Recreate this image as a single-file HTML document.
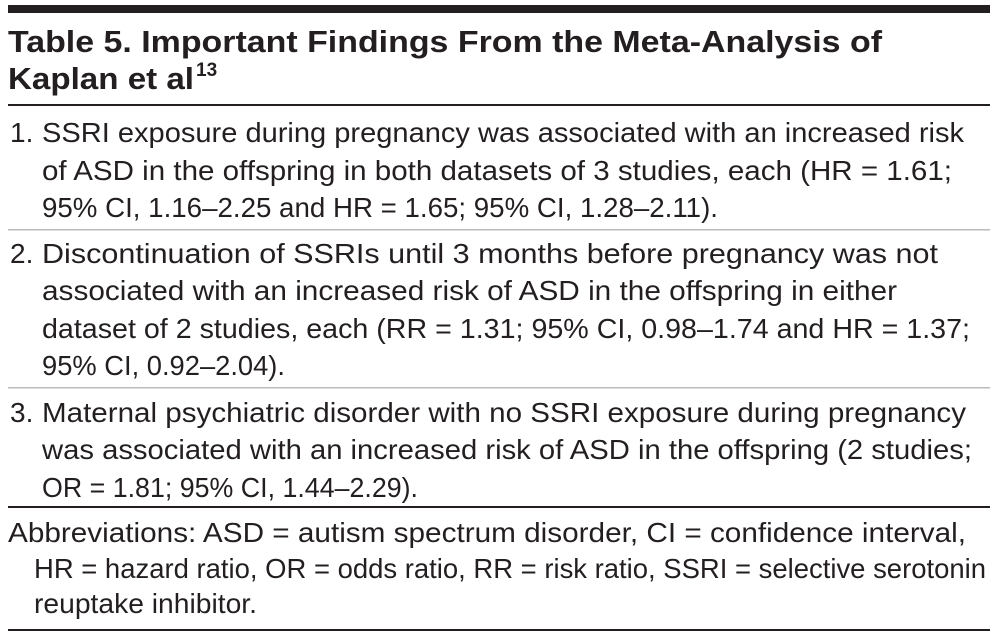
<!DOCTYPE html>
<html><head><meta charset="utf-8"><style>
html,body{margin:0;padding:0;background:#fff;}
svg{display:block;}
text{font-family:"Liberation Sans",sans-serif;fill:#231f20;}
.t{font-weight:bold;font-size:31px;}
.b{font-size:28px;}
</style></head><body>
<svg width="998" height="638">
<rect x="8" y="5" width="982" height="8" fill="#231f20"/>
<g>
<text class="t" x="8" y="52" textLength="874" lengthAdjust="spacingAndGlyphs">Table 5. Important Findings From the Meta-Analysis of</text>
<text class="t" x="8" y="89" textLength="186" lengthAdjust="spacingAndGlyphs">Kaplan et al</text>
<text class="t" x="196" y="76" style="font-size:19px;font-weight:bold">13</text>
</g>
<rect x="8" y="104" width="982" height="2" fill="#231f20"/>
<g>
<text class="b" x="10" y="142">1.</text>
<text class="b" x="42" y="142" textLength="922" lengthAdjust="spacingAndGlyphs">SSRI exposure during pregnancy was associated with an increased risk</text>
<text class="b" x="42" y="180" textLength="910" lengthAdjust="spacingAndGlyphs">of ASD in the offspring in both datasets of 3 studies, each (HR = 1.61;</text>
<text class="b" x="42" y="217" textLength="676" lengthAdjust="spacingAndGlyphs">95% CI, 1.16–2.25 and HR = 1.65; 95% CI, 1.28–2.11).</text>
</g>
<rect x="8" y="229" width="982" height="1.5" fill="#bbb"/>
<g>
<text class="b" x="10" y="263">2.</text>
<text class="b" x="42" y="263" textLength="896" lengthAdjust="spacingAndGlyphs">Discontinuation of SSRIs until 3 months before pregnancy was not</text>
<text class="b" x="42" y="300" textLength="855" lengthAdjust="spacingAndGlyphs">associated with an increased risk of ASD in the offspring in either</text>
<text class="b" x="42" y="338" textLength="928" lengthAdjust="spacingAndGlyphs">dataset of 2 studies, each (RR = 1.31; 95% CI, 0.98–1.74 and HR = 1.37;</text>
<text class="b" x="42" y="375" textLength="243" lengthAdjust="spacingAndGlyphs">95% CI, 0.92–2.04).</text>
</g>
<rect x="8" y="387" width="982" height="1.5" fill="#bbb"/>
<g>
<text class="b" x="10" y="422">3.</text>
<text class="b" x="42" y="422" textLength="924" lengthAdjust="spacingAndGlyphs">Maternal psychiatric disorder with no SSRI exposure during pregnancy</text>
<text class="b" x="42" y="459" textLength="930" lengthAdjust="spacingAndGlyphs">was associated with an increased risk of ASD in the offspring (2 studies;</text>
<text class="b" x="42" y="497" textLength="376" lengthAdjust="spacingAndGlyphs">OR = 1.81; 95% CI, 1.44–2.29).</text>
</g>
<rect x="8" y="506" width="982" height="2" fill="#231f20"/>
<g>
<text class="b" x="8" y="542" textLength="958" lengthAdjust="spacingAndGlyphs">Abbreviations: ASD = autism spectrum disorder, CI = confidence interval,</text>
<text class="b" x="34" y="578" textLength="952" lengthAdjust="spacingAndGlyphs">HR = hazard ratio, OR = odds ratio, RR = risk ratio, SSRI = selective serotonin</text>
<text class="b" x="34" y="613" textLength="223" lengthAdjust="spacingAndGlyphs">reuptake inhibitor.</text>
</g>
<rect x="8" y="629" width="982" height="2" fill="#231f20"/>
</svg>
</body></html>
